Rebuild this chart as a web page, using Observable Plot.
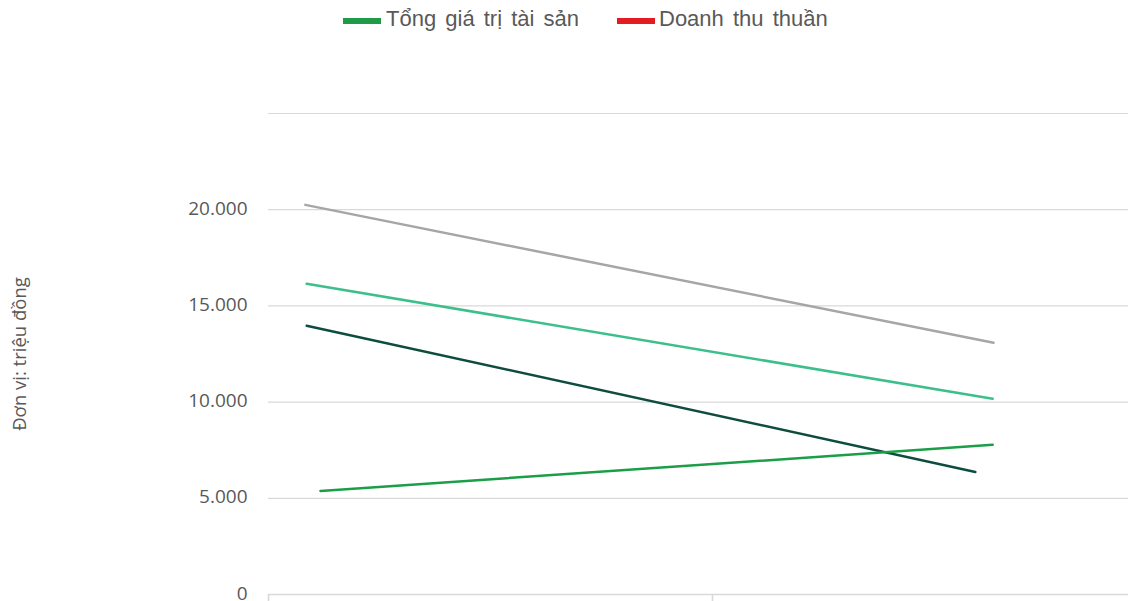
<!DOCTYPE html>
<html>
<head>
<meta charset="utf-8">
<script src="https://cdn.jsdelivr.net/npm/d3@7"></script>
<script src="https://cdn.jsdelivr.net/npm/@observablehq/plot@0.6"></script>
<style>
  html, body { margin: 0; padding: 0; background: #fff; overflow: hidden; width: 1128px; height: 601px; }
  #wrap { position: relative; width: 1128px; height: 601px; overflow: hidden; }
  #legend { position: absolute; top: 0; left: 0; width: 1128px; height: 40px; font-family: "Liberation Sans", Arial, sans-serif; font-size: 22px; color: #595959; }
  .sw { position: absolute; top: 18px; width: 38px; height: 6px; }
  .lt { position: absolute; top: 6px; white-space: nowrap; word-spacing: 3px; }
  #chart { position: absolute; top: 0; left: 0; width: 1200px; }
  #chart svg { max-width: none !important; }
</style>
</head>
<body>
<div id="wrap">
  <div id="chart"></div>
  <div id="legend"></div>
</div>
<script>
// Categories on x axis (labels cut off at bottom of reference)
const categories = ["Năm 2019", "Năm 2020"];
const categoryPos = [0.5, 1.5];
const categoryTicks = [0, 1, 2];

// Legend entries (as shown in reference)
const legendNames = ["Tổng giá trị tài sản", "Doanh thu thuần"];
const legendColors = ["#1e9a48", "#e31c23"];

// Line series (start / end values, triệu đồng)
const seriesNames = ["Xám", "Xanh nhạt", "Xanh đậm", "Xanh lá"];
const seriesColors = ["#a6a6a6", "#3dbf8c", "#0e4d3e", "#1a9e48"];
const startX = [0.083, 0.086, 0.086, 0.117];
const endX = [1.633, 1.631, 1.592, 1.631];
const startValues = [20250, 16150, 13970, 5380];
const endValues = [13080, 10170, 6370, 7780];

// Y ticks
const yLabelTicks = [0, 5000, 10000, 15000, 20000];
const yGridTicks = [5000, 10000, 15000, 20000, 25000];

const rows = [];
seriesNames.forEach((s, i) => {
  rows.push({series: s, x: startX[i], y: startValues[i]});
  rows.push({series: s, x: endX[i], y: endValues[i]});
});
const cats = categories.map((c, i) => ({label: c, x: categoryPos[i]}));

const fmt = d => d3.format(",")(d).replace(/,/g, ".");

const chart = Plot.plot({
  width: 1200,
  height: 640,
  marginLeft: 268,
  marginRight: 44,
  marginTop: 113,
  marginBottom: 46,
  style: {fontFamily: "'Open Sans', sans-serif", background: "transparent", maxWidth: "none"},
  x: {domain: [0, 2]},
  y: {domain: [0, 25000]},
  color: {domain: seriesNames, range: seriesColors},
  marks: [
    Plot.gridY(yGridTicks, {stroke: "#d9d9d9", strokeOpacity: 1, strokeWidth: 1.2}),
    Plot.ruleY([0], {stroke: "#d9d9d9", strokeWidth: 1.6}),
    Plot.axisX(categoryTicks, {tickSize: 7, tickFormat: () => "", stroke: "#d9d9d9", strokeWidth: 1.6, label: null}),
    Plot.axisY(yLabelTicks, {tickSize: 0, tickPadding: 21, tickFormat: fmt, fontSize: 19, fill: "#595959", label: null, dy: -1}),
    Plot.line(rows, {x: "x", y: "y", z: "series", stroke: "series", strokeWidth: 2.5}),
    Plot.text(cats, {x: "x", y: 0, text: "label", dy: 19, fontSize: 17, fill: "#595959"}),
    Plot.text(["Đơn vị: triệu đồng"], {frameAnchor: "left", rotate: -90, textAnchor: "middle", dx: -248, fontSize: 18.5, fill: "#595959"})
  ]
});
document.getElementById("chart").appendChild(chart);

const lg = document.getElementById("legend");
const swX = [343, 617];
const txX = [386, 659];
legendNames.forEach((n, i) => {
  const sw = document.createElement("div");
  sw.className = "sw";
  sw.style.left = swX[i] + "px";
  sw.style.background = legendColors[i];
  lg.appendChild(sw);
  const t = document.createElement("div");
  t.className = "lt";
  t.style.left = txX[i] + "px";
  t.textContent = n;
  lg.appendChild(t);
});
</script>
</body>
</html>
